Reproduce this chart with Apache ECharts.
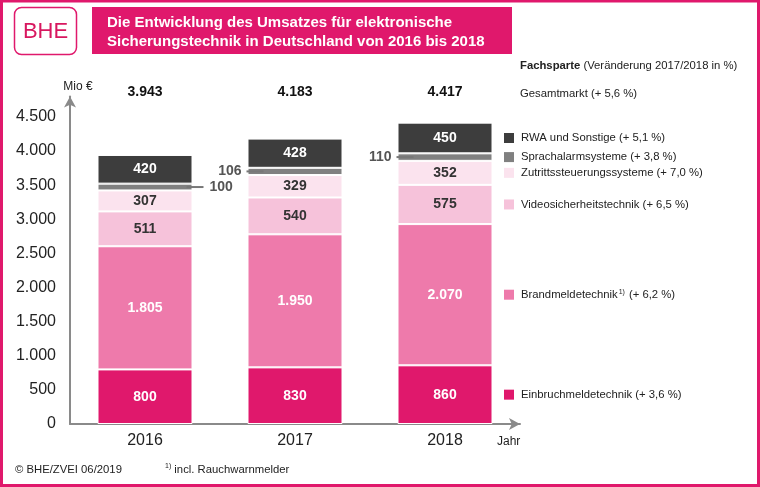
<!DOCTYPE html>
<html>
<head>
<meta charset="utf-8">
<script src="https://cdn.jsdelivr.net/npm/echarts@6/dist/echarts.min.js"></script>
<style>html,body{margin:0;padding:0;background:#fff}#c{width:760px;height:487px}</style>
</head>
<body>
<div id="c"></div>
<script>
var categories = ['2016', '2017', '2018'];
var einbruch = [800, 830, 860];
var brand = [1805, 1950, 2070];
var video = [511, 540, 575];
var zutritt = [307, 329, 352];
var sprach = [100, 106, 110];
var rwa = [420, 428, 450];
var totals = [3943, 4183, 4417];
var yTicks = [0, 500, 1000, 1500, 2000, 2500, 3000, 3500, 4000, 4500];
var seriesNames = ['Einbruchmeldetechnik', 'Brandmeldetechnik', 'Videosicherheitstechnik', 'Zutrittssteuerungssysteme', 'Sprachalarmsysteme', 'RWA und Sonstige'];
var changes = ['+ 3,6 %', '+ 6,2 %', '+ 6,5 %', '+ 7,0 %', '+ 3,8 %', '+ 5,1 %'];
var gesamtChange = '+ 5,6 %';

var FONT = '"Liberation Sans", Arial, sans-serif';
var PINK = '#e0186c';
var SMALL = 11.3;
var colors = ['#e0186c', '#ee7aab', '#f6c2da', '#fbe3ee', '#808080', '#3d3d3d'];
var labelColors = ['#ffffff', '#ffffff', '#333333', '#333333', '#555555', '#ffffff'];
var allData = [einbruch, brand, video, zutritt, sprach, rwa];

function de(n) { return String(n).replace(/\B(?=(\d{3})+(?!\d))/g, '.'); }

var chart = echarts.init(document.getElementById('c'));

var series = allData.map(function (arr, si) {
  // legend entry placed at the middle of the 2018 segment
  var last = categories.length - 1;
  var base = 0;
  for (var k = 0; k < si; k++) base += allData[k][last];
  var mid = base + arr[last] / 2;
  var rich = {
    t: { fontFamily: FONT, fontSize: SMALL, color: '#222', padding: [0, 0, 0, 7] },
    u: { fontFamily: FONT, fontSize: SMALL, color: '#222' },
    sup: { fontFamily: FONT, fontSize: 7, color: '#222', padding: [0, 4, 6, 1] }
  };
  rich['sq' + si] = { width: 10, height: 10, backgroundColor: colors[si] };
  var legendText = si === 1
    ? '{sq1|}{t|' + seriesNames[1] + '}{sup|1)}{u|(' + changes[1] + ')}'
    : '{sq' + si + '|}{t|' + seriesNames[si] + ' (' + changes[si] + ')}';
  var s = {
    name: seriesNames[si],
    type: 'bar',
    stack: 'total',
    barWidth: 95,
    itemStyle: { color: colors[si], borderColor: '#ffffff', borderWidth: 1 },
    label: {
      show: true,
      position: 'inside',
      color: labelColors[si],
      fontFamily: FONT,
      fontSize: 14,
      fontWeight: 'bold',
      formatter: function (p) { return de(p.value); }
    },
    markPoint: {
      silent: true,
      symbol: 'rect',
      symbolSize: 0,
      label: {
        show: true,
        position: 'right',
        distance: 59,
        formatter: legendText,
        rich: rich
      },
      data: [{ coord: [categories[last], mid] }]
    },
    data: arr.slice()
  };
  if (si === 4) {
    s.data = arr.map(function (v, i) {
      var right = i === 0;
      return {
        value: v,
        label: right ? {
          position: 'right', distance: -6,
          formatter: '{l|}{v|' + de(v) + '}'
        } : {
          position: 'left', distance: -16,
          formatter: '{v|' + de(v) + '}{l|}'
        }
      };
    });
    s.label.rich = {
      l: { width: 17, height: 2, backgroundColor: '#777777' },
      v: { fontFamily: FONT, fontSize: 14, fontWeight: 'bold', color: '#555555', padding: [0, 5, 0, 6] }
    };
  }
  return s;
});

var option = {
  animation: false,
  backgroundColor: '#ffffff',
  title: [
    {
      text: 'Die Entwicklung des Umsatzes für elektronische\nSicherungstechnik in Deutschland von 2016 bis 2018',
      left: 102, top: 8,
      textStyle: { color: '#ffffff', fontFamily: FONT, fontSize: 15, fontWeight: 'bold', lineHeight: 19 }
    },
    {
      text: '{b|Fachsparte} {n|(Veränderung 2017/2018 in %)}',
      left: 515, top: 55,
      textStyle: { fontWeight: 'normal', fontSize: SMALL, fontFamily: FONT, rich: {
        b: { fontFamily: FONT, fontSize: SMALL, fontWeight: 'bold', color: '#222' },
        n: { fontFamily: FONT, fontSize: SMALL, fontWeight: 'normal', color: '#222' }
      } }
    },
    {
      text: 'Gesamtmarkt (' + gesamtChange + ')',
      left: 515, top: 83,
      textStyle: { fontFamily: FONT, fontSize: SMALL, fontWeight: 'normal', color: '#222' }
    },
    {
      text: '© BHE/ZVEI 06/2019',
      left: 10, top: 459,
      textStyle: { fontFamily: FONT, fontSize: SMALL, fontWeight: 'normal', color: '#222' }
    },
    {
      text: '{s|1)}{t| incl. Rauchwarnmelder}',
      left: 160, top: 458,
      textStyle: { fontWeight: 'normal', fontSize: SMALL, fontFamily: FONT, rich: {
        s: { fontFamily: FONT, fontSize: 7, fontWeight: 'normal', color: '#222', padding: [0, 0, 6, 0] },
        t: { fontFamily: FONT, fontSize: SMALL, fontWeight: 'normal', color: '#222' }
      } }
    }
  ],
  graphic: [
    { type: 'rect', z: 0, shape: { x: 92, y: 7, width: 420, height: 47 }, style: { fill: PINK } },
    { type: 'rect', z: 0, shape: { x: 14.5, y: 7.5, width: 62, height: 47, r: 7 }, style: { fill: '#fff', stroke: PINK, lineWidth: 1.5 } },
    { type: 'text', z: 1, x: 45.5, y: 31.5, style: { text: 'BHE', fill: '#d8175f', font: '22px ' + FONT, align: 'center', verticalAlign: 'middle' } },
    { type: 'rect', z: 10, shape: { x: 1.5, y: 1, width: 757, height: 484.5 }, style: { fill: 'none', stroke: PINK, lineWidth: 3 } }
  ],
  grid: { left: 70, right: 240, top: 96.5, bottom: 63 },
  xAxis: [
    {
      type: 'category',
      data: categories,
      name: 'Jahr',
      nameLocation: 'end',
      nameGap: -23,
      nameTextStyle: { fontFamily: FONT, fontSize: 12, color: '#222', verticalAlign: 'top', padding: [12, 0, 0, 0] },
      axisLine: { lineStyle: { color: '#8a8a8a', width: 2 }, symbol: ['none', 'arrow'], symbolSize: [9, 11] },
      axisTick: { show: false },
      axisLabel: { fontFamily: FONT, fontSize: 16, color: '#222', margin: 9 }
    },
    {
      type: 'category',
      position: 'top',
      data: totals.map(de),
      axisLine: { show: false },
      axisTick: { show: false },
      axisLabel: { fontFamily: FONT, fontSize: 14, fontWeight: 'bold', color: '#111', verticalAlign: 'middle', margin: 4 }
    }
  ],
  yAxis: {
    type: 'value',
    min: 0,
    max: 4800,
    interval: 500,
    name: 'Mio €',
    nameLocation: 'end',
    nameGap: 4,
    nameTextStyle: { fontFamily: FONT, fontSize: 12, color: '#222', align: 'center', padding: [0, 0, 0, 16] },
    axisLine: { show: true, lineStyle: { color: '#8a8a8a', width: 2 }, symbol: ['none', 'arrow'], symbolSize: [9, 11] },
    axisTick: { show: false },
    splitLine: { show: false },
    axisLabel: {
      fontFamily: FONT, fontSize: 16, color: '#222', margin: 14, showMaxLabel: false,
      formatter: function (v) { return yTicks.indexOf(v) >= 0 ? de(v) : ''; }
    }
  },
  series: series
};
chart.setOption(option);
</script>
</body>
</html>
